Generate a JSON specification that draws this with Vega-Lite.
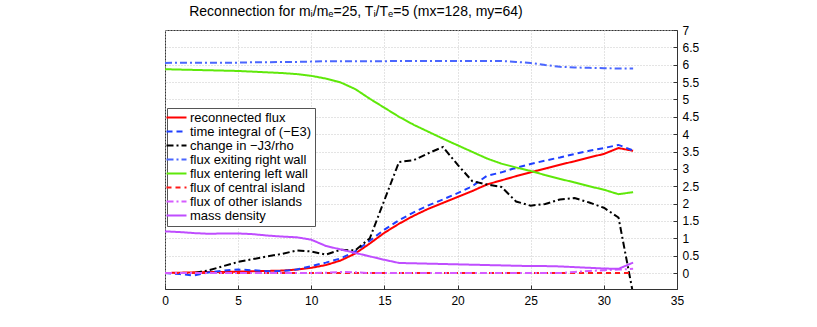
{
  "$schema": "https://vega.github.io/schema/vega-lite/v6.json",
  "autosize": "none",
  "width": 512,
  "height": 259,
  "padding": {"left": 165, "top": 30, "right": 140, "bottom": 38},
  "background": "white",
  "title": {
    "text": "Reconnection for mᵢ/mₑ=25, Tᵢ/Tₑ=5 (mx=128, my=64)",
    "font": "Liberation Sans",
    "fontSize": 14,
    "fontWeight": "normal",
    "color": "#000",
    "anchor": "middle",
    "dx": -65,
    "offset": 5
  },
  "config": {
    "view": {"stroke": "#333", "strokeWidth": 1},
    "axis": {
      "labelFont": "Liberation Sans",
      "labelFontSize": 12,
      "labelColor": "#000",
      "labelFlush": false,
      "labelOverlap": false,
      "domainColor": "#333",
      "tickColor": "#333",
      "gridColor": "#c8c8c8",
      "gridDash": [1, 2],
      "tickSize": -4,
      "title": null
    }
  },
  "data": {
    "values": [
      {"t":0,"rf":0.00,"ti":0.00,"cj":0.00,"ew":6.05,"el":5.87,"ci":0,"oi":0,"md":1.20},
      {"t":1,"rf":0.01,"ti":-0.03,"cj":0.00,"ew":6.06,"el":5.86,"ci":0,"oi":0,"md":1.18},
      {"t":2,"rf":0.02,"ti":-0.07,"cj":0.00,"ew":6.06,"el":5.85,"ci":0,"oi":0,"md":1.15},
      {"t":3,"rf":0.03,"ti":0.02,"cj":0.08,"ew":6.06,"el":5.84,"ci":0,"oi":0,"md":1.13},
      {"t":4,"rf":0.03,"ti":0.07,"cj":0.20,"ew":6.06,"el":5.83,"ci":0,"oi":0,"md":1.14},
      {"t":5,"rf":0.04,"ti":0.10,"cj":0.32,"ew":6.06,"el":5.82,"ci":0,"oi":0,"md":1.14},
      {"t":6,"rf":0.05,"ti":0.08,"cj":0.40,"ew":6.07,"el":5.80,"ci":0,"oi":0,"md":1.12},
      {"t":7,"rf":0.06,"ti":0.05,"cj":0.48,"ew":6.07,"el":5.78,"ci":0,"oi":0,"md":1.08},
      {"t":8,"rf":0.07,"ti":0.06,"cj":0.55,"ew":6.08,"el":5.76,"ci":0,"oi":0,"md":1.05},
      {"t":9,"rf":0.10,"ti":0.10,"cj":0.65,"ew":6.08,"el":5.73,"ci":0,"oi":0,"md":1.03},
      {"t":10,"rf":0.15,"ti":0.20,"cj":0.62,"ew":6.09,"el":5.68,"ci":0,"oi":0,"md":0.96},
      {"t":11,"rf":0.23,"ti":0.30,"cj":0.53,"ew":6.10,"el":5.60,"ci":0,"oi":0.01,"md":0.78},
      {"t":12,"rf":0.36,"ti":0.42,"cj":0.67,"ew":6.10,"el":5.49,"ci":0,"oi":0.03,"md":0.68},
      {"t":13,"rf":0.56,"ti":0.62,"cj":0.65,"ew":6.10,"el":5.30,"ci":0,"oi":0.02,"md":0.58},
      {"t":14,"rf":0.85,"ti":0.93,"cj":1.00,"ew":6.10,"el":5.02,"ci":0,"oi":0,"md":0.48},
      {"t":15,"rf":1.16,"ti":1.25,"cj":2.10,"ew":6.10,"el":4.76,"ci":0,"oi":0,"md":0.38},
      {"t":16,"rf":1.42,"ti":1.52,"cj":3.20,"ew":6.11,"el":4.50,"ci":0,"oi":0,"md":0.29},
      {"t":17,"rf":1.65,"ti":1.75,"cj":3.25,"ew":6.11,"el":4.27,"ci":0,"oi":0,"md":0.28},
      {"t":18,"rf":1.85,"ti":1.95,"cj":3.45,"ew":6.11,"el":4.07,"ci":0,"oi":0,"md":0.27},
      {"t":19,"rf":2.02,"ti":2.12,"cj":3.63,"ew":6.11,"el":3.87,"ci":0,"oi":0,"md":0.26},
      {"t":20,"rf":2.19,"ti":2.30,"cj":3.12,"ew":6.11,"el":3.68,"ci":0,"oi":0,"md":0.25},
      {"t":21,"rf":2.36,"ti":2.50,"cj":2.65,"ew":6.11,"el":3.49,"ci":0,"oi":0,"md":0.24},
      {"t":22,"rf":2.55,"ti":2.80,"cj":2.55,"ew":6.11,"el":3.30,"ci":0,"oi":0,"md":0.23},
      {"t":23,"rf":2.67,"ti":2.90,"cj":2.48,"ew":6.11,"el":3.15,"ci":0,"oi":0,"md":0.22},
      {"t":24,"rf":2.79,"ti":3.03,"cj":2.06,"ew":6.08,"el":3.04,"ci":0,"oi":0,"md":0.21},
      {"t":25,"rf":2.90,"ti":3.14,"cj":1.94,"ew":6.05,"el":2.94,"ci":0,"oi":0,"md":0.20},
      {"t":26,"rf":3.01,"ti":3.24,"cj":1.99,"ew":5.99,"el":2.82,"ci":0,"oi":0,"md":0.20},
      {"t":27,"rf":3.12,"ti":3.33,"cj":2.12,"ew":5.94,"el":2.71,"ci":0,"oi":0,"md":0.19},
      {"t":28,"rf":3.22,"ti":3.43,"cj":2.16,"ew":5.92,"el":2.61,"ci":0,"oi":0.03,"md":0.17},
      {"t":29,"rf":3.33,"ti":3.52,"cj":2.03,"ew":5.91,"el":2.50,"ci":0,"oi":0.06,"md":0.15},
      {"t":30,"rf":3.43,"ti":3.60,"cj":1.88,"ew":5.90,"el":2.40,"ci":0,"oi":0.08,"md":0.13},
      {"t":31,"rf":3.60,"ti":3.69,"cj":1.60,"ew":5.89,"el":2.27,"ci":0,"oi":0.10,"md":0.12},
      {"t":32,"rf":3.52,"ti":3.53,"cj":-0.60,"ew":5.89,"el":2.33,"ci":0,"oi":0.12,"md":0.30}
    ]
  },
  "transform": [
    {"fold": ["rf", "ti", "cj", "ew", "el", "ci", "oi", "md"], "as": ["series", "value"]}
  ],
  "mark": {"type": "line", "clip": true},
  "encoding": {
    "x": {
      "field": "t", "type": "quantitative",
      "scale": {"domain": [0, 35], "nice": false},
      "axis": {"orient": "bottom", "values": [0,5,10,15,20,25,30,35], "labelPadding": 10, "grid": true}
    },
    "y": {
      "field": "value", "type": "quantitative",
      "scale": {"domain": [-0.46, 7], "nice": false, "zero": false},
      "axis": {"orient": "right", "values": [0,0.5,1,1.5,2,2.5,3,3.5,4,4.5,5,5.5,6,6.5,7], "format": "~g", "labelPadding": 9, "grid": true}
    },
    "color": {
      "field": "series", "type": "nominal",
      "scale": {
        "domain": ["rf", "ti", "cj", "ew", "el", "ci", "oi", "md"],
        "range": ["#ff0000", "#1f3fff", "#000000", "#4a66ff", "#5fe80a", "#ff1a1a", "#d65cff", "#bf4dff"]
      },
      "legend": {
        "orient": "none", "legendX": 2, "legendY": 78,
        "title": null,
        "symbolType": "M-2,0H2", "symbolSize": 100, "symbolStrokeWidth": 2,
        "labelFont": "Liberation Sans", "labelFontSize": 13, "labelColor": "#000",
        "labelOffset": 7, "rowPadding": -3, "padding": 3,
        "strokeColor": "#555", "fillColor": "white",
        "labelExpr": "datum.value == 'rf' ? 'reconnected flux' : datum.value == 'ti' ? 'time integral of (−E3)' : datum.value == 'cj' ? 'change in −J3/rho' : datum.value == 'ew' ? 'flux exiting right wall' : datum.value == 'el' ? 'flux entering left wall' : datum.value == 'ci' ? 'flux of central island' : datum.value == 'oi' ? 'flux of other islands' : 'mass density'"
      }
    },
    "strokeDash": {
      "field": "series", "type": "nominal",
      "scale": {
        "domain": ["rf", "ti", "cj", "ew", "el", "ci", "oi", "md"],
        "range": [[1,0], [6,4], [7,3,2,3], [7,3,2,3], [1,0], [5,4], [7,3,2,3], [1,0]]
      },
      "legend": {
        "orient": "none", "legendX": 2, "legendY": 78,
        "title": null,
        "symbolType": "M-2,0H2", "symbolSize": 100, "symbolStrokeWidth": 2,
        "labelFont": "Liberation Sans", "labelFontSize": 13, "labelColor": "#000",
        "labelOffset": 7, "rowPadding": -3, "padding": 3,
        "strokeColor": "#555", "fillColor": "white",
        "labelExpr": "datum.value == 'rf' ? 'reconnected flux' : datum.value == 'ti' ? 'time integral of (−E3)' : datum.value == 'cj' ? 'change in −J3/rho' : datum.value == 'ew' ? 'flux exiting right wall' : datum.value == 'el' ? 'flux entering left wall' : datum.value == 'ci' ? 'flux of central island' : datum.value == 'oi' ? 'flux of other islands' : 'mass density'"
      }
    },
    "strokeWidth": {
      "field": "series", "type": "ordinal",
      "scale": {
        "domain": ["rf", "ti", "cj", "ew", "el", "ci", "oi", "md"],
        "range": [2, 2, 2, 1.2, 1.2, 1.2, 1.2, 1.5]
      },
      "legend": null
    }
  }
}
